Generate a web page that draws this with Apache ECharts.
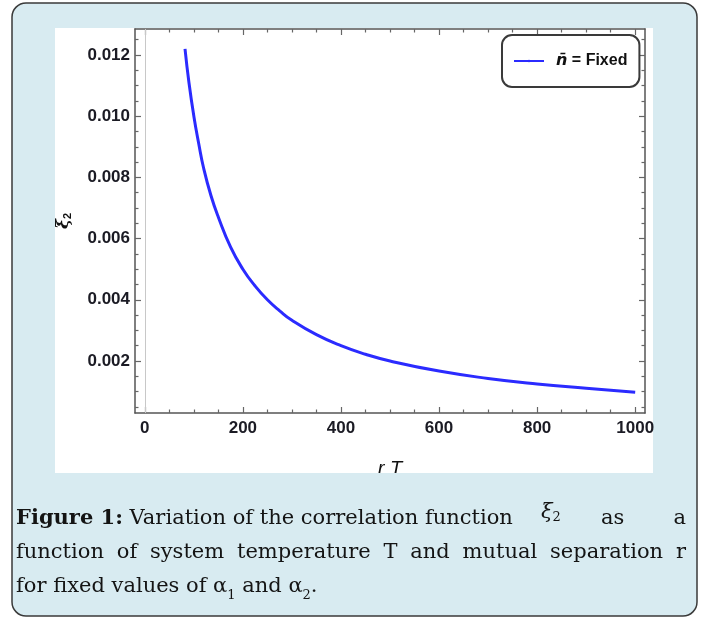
<!DOCTYPE html>
<html>
<head>
<meta charset="utf-8">
<script src="https://cdn.jsdelivr.net/npm/echarts@6/dist/echarts.min.js"></script>
<style>
html, body { margin: 0; padding: 0; background: #fff; }
#chart { width: 702px; height: 619px; }
</style>
</head>
<body>
<div id="chart"></div>
<script>
// values: xi_2 against rT
const rT  = [82, 90, 100, 110, 120, 135, 150, 175, 200, 225, 250, 275, 300, 350, 400, 450, 500, 600, 700, 800, 900, 1000];
const xi2 = [0.0122, 0.0111, 0.0100, 0.0091, 0.0083, 0.0074, 0.0067, 0.00572, 0.0050, 0.00445, 0.0040, 0.00364,
             0.00333, 0.00286, 0.0025, 0.00222, 0.0020, 0.00167, 0.00143, 0.00125, 0.00111, 0.00098];

// frame ticks
const xMajor = [0, 200, 400, 600, 800, 1000];
const xMinor = [50, 100, 150, 250, 300, 350, 450, 500, 550, 650, 700, 750, 850, 900, 950];
const yMajor = [0.002, 0.004, 0.006, 0.008, 0.010, 0.012];
const yMinor = [0.0005, 0.001, 0.0015, 0.0025, 0.003, 0.0035, 0.0045, 0.005, 0.0055, 0.0065, 0.007, 0.0075,
                0.0085, 0.009, 0.0095, 0.0105, 0.011, 0.0115, 0.0125];

const seriesName = 'n\u0304 = Fixed';
const captionLine1 = ['Variation', 'of', 'the', 'correlation', 'function'];
const captionLine2 = 'function of system temperature T and mutual separation r';

const FRAME = '#555';
const TICK = '#666';
const LABEL = { fontFamily: 'Liberation Sans', fontWeight: 'bold', fontSize: 17, color: '#1b1b24' };

function xAx(position, ticks, len, main) {
  return {
    type: 'value', position: position, min: -20, max: 1020,
    axisLine: { show: main, onZero: false, lineStyle: { color: FRAME, width: 1.5 } },
    axisTick: { show: true, inside: true, length: len, customValues: ticks, lineStyle: { color: TICK, width: 1.2 } },
    axisLabel: Object.assign({ show: main && position === 'bottom', customValues: xMajor, margin: 7,
      formatter: v => String(v) }, LABEL),
    splitLine: { show: false }
  };
}
function yAx(position, ticks, len, main) {
  return {
    type: 'value', position: position, min: 0.0003, max: 0.01285,
    axisLine: { show: main, onZero: false, lineStyle: { color: FRAME, width: 1.5 } },
    axisTick: { show: true, inside: true, length: len, customValues: ticks, lineStyle: { color: TICK, width: 1.2 } },
    axisLabel: Object.assign({ show: main && position === 'left', customValues: yMajor, margin: 5,
      formatter: v => v.toFixed(3) }, LABEL),
    splitLine: { show: false }
  };
}

// caption layout (measured with canvas so words can be justified)
const ctx = document.createElement('canvas').getContext('2d');
const F = '21px "DejaVu Serif"';
const FB = 'bold 21px "DejaVu Serif"';
const FI = 'italic 21px "DejaVu Serif"';
const FS = '13px "DejaVu Serif"';
function tw(t, f) { ctx.font = f; return ctx.measureText(t).width; }
function runsW(runs) { return runs.reduce((s, r) => s + tw(r.t, r.f), 0); }
function place(runs, x, y, out) {
  runs.forEach(r => {
    out.push({ type: 'text', x: x, y: y + (r.dy || 0), z: 100,
      style: { text: r.t, font: r.f, fill: '#141414', textAlign: 'left', textVerticalAlign: 'middle' } });
    x += tw(r.t, r.f);
  });
  return x;
}
// spreads words between x0 and x1 (never tighter than a normal space); returns the end x
function justify(words, x0, x1, y, out) {
  const total = words.reduce((s, w) => s + runsW(w), 0);
  const gap = Math.max(tw(' ', F), (x1 - x0 - total) / (words.length - 1));
  let x = x0, end = x0;
  words.forEach(w => { end = place(w, x, y, out); x = end + gap; });
  return end;
}

const caption = [];
const seg1End = justify([[{ t: 'Figure 1:', f: FB }]].concat(captionLine1.map(t => [{ t: t, f: F }])), 16, 512, 519, caption);
place([{ t: '\u03be', f: FI, dy: -6 }, { t: '2', f: FS, dy: -1 }], Math.max(541, seg1End + 20), 519, caption);
justify([[{ t: 'as', f: F }], [{ t: 'a', f: F }]], 601, 686, 519, caption);
justify(captionLine2.split(' ').map(t => [{ t: t, f: F }]), 16, 686, 553, caption);
place([
  { t: 'for fixed values of \u03b1', f: F }, { t: '1', f: FS, dy: 9 },
  { t: ' and \u03b1', f: F }, { t: '2', f: FS, dy: 9 }, { t: '.', f: F }
], 16, 587, caption);

const chart = echarts.init(document.getElementById('chart'));
chart.setOption({
  animation: false,
  grid: { left: 135, right: 57, top: 29, bottom: 206, containLabel: false },
  xAxis: [
    Object.assign(xAx('bottom', xMajor, 6, true), {
      name: 'r T', nameLocation: 'middle', nameGap: 46,
      nameTextStyle: { fontFamily: 'Liberation Sans', fontStyle: 'italic', fontSize: 20, color: '#111' }
    }),
    xAx('bottom', xMinor, 3.5, false),
    xAx('top', xMajor, 6, true),
    xAx('top', xMinor, 3.5, false)
  ],
  yAxis: [
    Object.assign(yAx('left', yMajor, 6, true), {
      name: '{a|\u03be}{b|2}', nameLocation: 'middle', nameGap: 62, nameRotate: 90,
      nameTextStyle: { rich: {
        a: { fontFamily: 'DejaVu Serif', fontStyle: 'italic', fontWeight: 'bold', fontSize: 17, color: '#111' },
        b: { fontFamily: 'Liberation Sans', fontWeight: 'bold', fontSize: 11, color: '#111', padding: [8, 0, 0, 0] }
      } }
    }),
    yAx('left', yMinor, 3.5, false),
    yAx('right', yMajor, 6, true),
    yAx('right', yMinor, 3.5, false)
  ],
  legend: {
    left: 502, top: 35, padding: [18, 12, 18, 11],
    itemWidth: 30, itemHeight: 3,
    borderColor: '#3a3a3a', borderWidth: 2, borderRadius: 10, backgroundColor: '#fff',
    formatter: () => '{n|n\u0304} = Fixed',
    textStyle: { fontFamily: 'Liberation Sans', fontWeight: 'bold', fontSize: 16, color: '#111', padding: [0, 0, 0, 7],
      rich: { n: { fontFamily: 'DejaVu Sans', fontStyle: 'italic', fontWeight: 'bold', fontSize: 16, color: '#111' } } }
  },
  series: [{
    type: 'line', name: seriesName, xAxisIndex: 0, yAxisIndex: 0,
    data: rT.map((x, i) => [x, xi2[i]]),
    symbol: 'none', smooth: true, z: 3,
    lineStyle: { color: '#2b2bff', width: 3 }, itemStyle: { color: '#2b2bff' },
    markLine: { silent: true, symbol: 'none', label: { show: false }, animation: false,
      lineStyle: { color: '#c8c8c8', width: 1, type: 'solid' }, data: [{ xAxis: 0 }] }
  }],
  graphic: [
    { type: 'rect', z: -10, shape: { x: 12, y: 3, width: 685, height: 613, r: 14 },
      style: { fill: '#d8ebf1', stroke: '#3a3a3a', lineWidth: 1.5 } },
    { type: 'rect', z: -9, shape: { x: 55, y: 28, width: 598, height: 445 }, style: { fill: '#fff' } },
    // caption strip trims the cut-off axis title, as in the source image
    { type: 'rect', z: 99, shape: { x: 55, y: 473, width: 598, height: 20 }, style: { fill: '#d8ebf1' } }
  ].concat(caption)
});
</script>
</body>
</html>
